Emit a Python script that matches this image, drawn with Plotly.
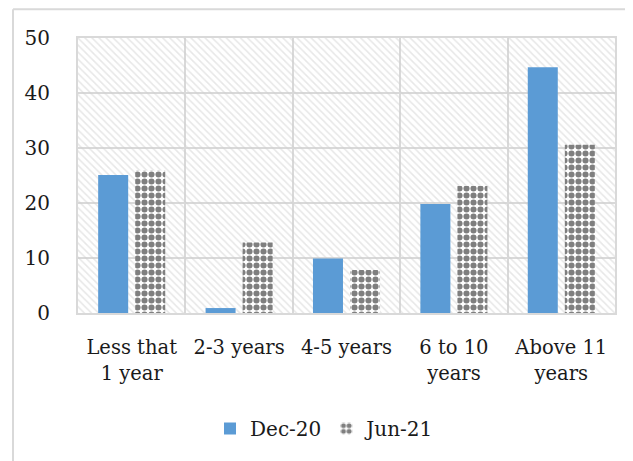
import plotly.graph_objects as go

categories = ["Less that<br>1 year", "2-3 years", "4-5 years", "6 to 10<br>years", "Above 11<br>years"]
dec20 = [25.1, 0.9, 9.9, 19.8, 44.7]
jun21 = [25.9, 12.8, 7.8, 23.1, 30.6]
series_names = ["Dec-20", "Jun-21"]
y_ticks = [0, 10, 20, 30, 40, 50]

FONT = "DejaVu Serif"
FS = 20
GRID = "#d9d9d9"
TXT = "#1a1a1a"

fig = go.Figure()

# background hatch of the plot area (drawn on hidden base axes)
fig.add_trace(go.Bar(
    x=[0.5], y=[1], width=[1], xaxis="x", yaxis="y",
    marker=dict(color="rgba(0,0,0,0)", line=dict(width=0),
                pattern=dict(shape="\\", fgcolor="#cfcfcf", bgcolor="rgba(0,0,0,0)",
                             size=5, solidity=0.3)),
    showlegend=False, hoverinfo="skip"))

fig.add_trace(go.Bar(
    name=series_names[0], x=categories, y=dec20, xaxis="x2", yaxis="y2",
    marker=dict(color="#5b9bd5", line=dict(width=0))))
fig.add_trace(go.Bar(
    name=series_names[1], x=categories, y=jun21, xaxis="x2", yaxis="y2",
    marker=dict(color="white", line=dict(width=0),
                pattern=dict(shape=".", fgcolor="black", bgcolor="white",
                             size=7, solidity=0.6))))

fig.update_layout(
    width=633, height=461,
    margin=dict(l=70, r=26, t=30, b=156),
    paper_bgcolor="white", plot_bgcolor="white",
    font=dict(family=FONT, size=FS, color=TXT),
    barmode="group", bargap=0.31, bargroupgap=0.19,
    xaxis=dict(range=[0, 1], visible=False, fixedrange=True),
    yaxis=dict(range=[0, 1], visible=False, fixedrange=True),
    xaxis2=dict(overlaying="x", anchor="y2", type="category", tickson="boundaries",
                showgrid=True, gridcolor=GRID, gridwidth=2,
                showline=True, linecolor=GRID, linewidth=2, mirror=True,
                ticks="", ticklabelstandoff=16,
                tickfont=dict(family=FONT, size=19.5, color=TXT)),
    yaxis2=dict(overlaying="y", anchor="x2", range=[0, 50], tickvals=y_ticks,
                showgrid=True, gridcolor=GRID, gridwidth=2,
                showline=True, linecolor=GRID, linewidth=2, mirror=True,
                zeroline=False, ticks="", ticklabelstandoff=22,
                tickfont=dict(family=FONT, size=FS, color=TXT)),
    legend=dict(orientation="h", x=0.46, xanchor="center", y=-0.42, yanchor="middle",
                font=dict(family=FONT, size=FS, color=TXT),
                itemwidth=30, traceorder="normal"),
    shapes=[
        dict(type="line", xref="paper", yref="paper", x0=-0.121, x1=1.1, y0=1.105, y1=1.105,
             line=dict(color=GRID, width=2)),
        dict(type="line", xref="paper", yref="paper", x0=-0.121, x1=-0.121, y0=1.105, y1=-0.6,
             line=dict(color=GRID, width=2)),
    ],
)

fig.write_html("out.html")
